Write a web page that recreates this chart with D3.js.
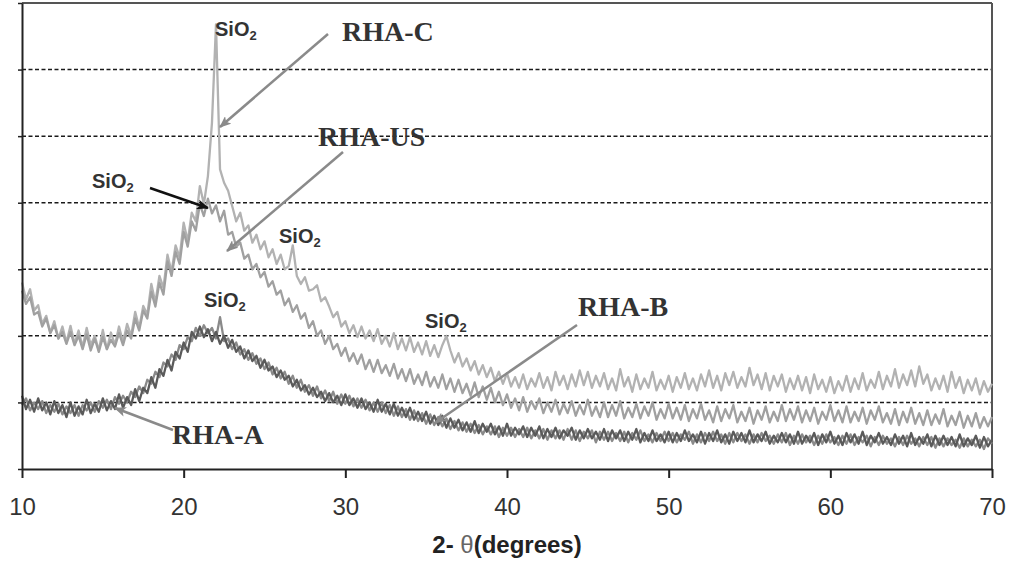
<!DOCTYPE html>
<html>
<head>
<meta charset="utf-8">
<script src="https://cdn.jsdelivr.net/npm/d3@7/dist/d3.min.js"></script>
<style>
html,body{margin:0;padding:0;background:#fff;}
svg{display:block;}
</style>
</head>
<body>
<svg id="chart" width="1019" height="569"></svg>
<script>
// ---- data (2θ grid: 10° to 70° in 0.25° steps) ----
const twoTheta = d3.range(10, 70.001, 0.25);
const xTicks = [10, 20, 30, 40, 50, 60, 70];
const gridValues = [100, 200, 300, 400, 500, 600];

const rhaC = [
280,255,270,238, 246,218,230,205, 222,196,214,190, 215,188,208,183, 212,186,200,178,
209,180,205,186, 214,190,218,200, 236,212,245,232, 278,250,290,272, 322,296,336,318,
370,342,385,372, 425,398,440,520, 668,450,430,418, 395,372,385,358, 366,340,352,330,
342,318,330,308, 322,300,305,336, 290,278,288,268, 270,276,252,258, 244,228,236,214,
222,204,216,198, 214,196,208,192, 210,188,200,184, 204,180,196,178, 198,176,190,172,
192,170,186,168, 186,200,178,160, 174,154,166,148, 162,142,156,138, 152,132,146,128,
144,124,138,122, 142,120,136,124, 144,122,138,118, 146,126,140,120, 142,124,148,126,
146,122,140,124, 144,120,136,118, 150,124,138,116, 142,120,136,122, 146,118,134,120,
140,116,138,122, 144,120,136,118, 142,124,148,122, 140,118,144,126, 146,122,138,124,
152,126,142,120, 144,118,140,124, 142,116,136,120, 140,118,138,114, 142,120,134,116,
138,114,132,118, 140,116,136,120, 144,118,134,122, 146,120,140,124, 150,122,142,126,
148,124,154,128, 142,118,136,120, 140,116,146,122, 138,114,134,118, 136,112,132,116,
128];

const rhaUS = [
268,248,258,232, 236,214,226,204, 216,196,206,188, 206,186,200,180, 202,178,196,176,
198,180,194,184, 204,186,208,196, 226,208,238,226, 266,244,280,262, 312,290,326,308,
356,334,372,358, 398,380,406,384, 396,372,388,352, 356,334,340,316, 322,300,308,288,
296,274,282,262, 268,246,256,236, 246,226,234,212, 222,200,208,188, 200,180,188,170,
182,162,174,158, 172,150,164,146, 164,144,156,140, 158,136,150,132, 150,128,142,126,
146,124,138,122, 142,120,136,116, 134,114,128,110, 130,108,124,104, 122,100,116,96,
112,92,106,88, 108,86,102,90, 106,84,100,86, 104,82,98,84, 102,80,96,82,
104,80,94,78, 100,78,96,80, 102,76,92,78, 98,76,94,80, 100,74,90,76,
98,76,92,74, 96,72,90,76, 98,74,88,70, 94,72,90,76, 96,70,86,72,
92,68,88,74, 94,70,86,72, 96,72,90,74, 94,70,88,72, 92,68,86,74,
96,72,88,70, 94,70,86,72, 92,68,88,74, 94,70,84,68, 90,66,86,70,
92,68,84,66, 88,66,82,68, 90,64,80,66, 86,62,80,64, 84,62,78,64,
78];

const rhaB = [
96,106,88,100, 90,102,84,96, 86,98,82,94, 84,96,80,96, 88,100,86,102,
92,104,90,108, 98,110,100,116, 108,124,114,134, 128,146,138,160, 154,172,164,186,
180,198,192,212, 200,216,204,212, 196,228,192,196, 180,190,172,180, 164,174,158,166,
150,160,142,152, 136,146,128,140, 122,134,116,126, 110,124,106,118, 102,116,98,112,
98,110,94,106, 92,104,88,100, 86,100,84,96, 80,94,78,90, 74,88,72,84,
68,82,66,78, 64,76,60,72, 58,70,56,68, 54,66,52,64, 52,64,48,62,
50,62,48,60, 48,62,46,58, 46,60,44,58, 46,58,44,60, 44,58,42,56,
46,58,40,56, 44,56,42,54, 42,56,40,54, 44,58,42,52, 40,54,42,56,
42,54,40,52, 44,56,38,52, 40,54,42,56, 42,52,38,54, 40,54,42,52,
38,52,40,54, 42,50,38,52, 40,54,36,50, 38,52,40,50, 36,50,38,52,
40,48,36,50, 38,52,36,48, 40,50,34,48, 36,50,38,46, 34,48,36,50,
38,46,34,48, 36,48,32,46, 34,46,36,44, 32,46,34,44, 34,44,30,46,
38];

const rhaA = [
110,90,104,86, 106,88,100,82, 102,84,96,78, 100,80,94,82, 104,84,98,86,
106,88,102,90, 112,92,108,96, 120,102,122,114, 138,122,150,140, 164,148,176,166,
190,176,206,196, 214,198,210,192, 206,188,200,182, 194,176,184,166, 178,162,170,152,
164,148,154,138, 148,134,140,124, 134,118,126,112, 122,108,116,102, 114,100,110,96,
112,96,106,92, 106,90,100,86, 104,86,98,82, 98,80,92,78, 92,74,86,72,
86,68,80,66, 80,62,76,62, 74,58,70,56, 72,54,68,56, 68,52,64,50,
68,50,62,52, 64,48,62,50, 64,46,60,48, 62,46,58,50, 62,44,58,46,
60,46,56,44, 60,42,58,46, 58,42,56,44, 60,40,54,42, 58,42,52,40,
56,40,54,42, 58,42,52,40, 56,38,54,42, 58,40,52,38, 56,42,54,40,
58,40,52,42, 56,38,50,40, 54,40,52,38, 56,38,50,40, 54,36,52,40,
56,38,50,36, 54,40,52,38, 56,36,50,40, 54,38,48,36, 52,38,50,34,
54,36,48,38, 52,34,50,36, 50,36,48,34, 52,34,46,36, 50,32,48,34,
44];

const seriesNames = ["RHA-C", "RHA-US", "RHA-B", "RHA-A"];
const seriesValues = [rhaC, rhaUS, rhaB, rhaA];
const seriesColors = ["#b2b2b2", "#a0a0a0", "#8a8a8a", "#5a5a5a"];

// ---- layout ----
const svg = d3.select("#chart");
const x = d3.scaleLinear().domain([10, 70]).range([22, 992]);
const y = d3.scaleLinear().domain([0, 700]).range([469, 3]);

const defs = svg.append("defs");
defs.append("filter").attr("id", "soft").attr("x", "-5%").attr("y", "-5%").attr("width", "110%").attr("height", "110%")
  .append("feGaussianBlur").attr("stdDeviation", 0.55);

// grid lines
svg.append("g").selectAll("line").data(gridValues).join("line")
  .attr("x1", x(10)).attr("x2", x(70))
  .attr("y1", d => y(d)).attr("y2", d => y(d))
  .attr("stroke", "#1a1a1a").attr("stroke-width", 1.5)
  .attr("stroke-dasharray", "4,2.5");

// frame top/right
svg.append("line").attr("x1", x(10)).attr("x2", x(70)).attr("y1", y(700)).attr("y2", y(700))
  .attr("stroke", "#555").attr("stroke-width", 2);
svg.append("line").attr("x1", x(70)).attr("x2", x(70)).attr("y1", y(700)).attr("y2", y(0))
  .attr("stroke", "#555").attr("stroke-width", 2);

// series
const line = d3.line().x((d, i) => x(twoTheta[i])).y(d => y(d));
svg.append("g").attr("filter", "url(#soft)").selectAll("path").data(seriesValues).join("path")
  .attr("d", d => line(d))
  .attr("fill", "none")
  .attr("stroke", (d, i) => seriesColors[i])
  .attr("stroke-width", 2.3)
  .attr("stroke-linejoin", "round");

// axes
const xAxis = svg.append("g").attr("transform", `translate(0,${y(0)})`)
  .call(d3.axisBottom(x).tickValues(xTicks).tickSize(9).tickSizeOuter(0).tickPadding(20));
xAxis.select(".domain").attr("stroke", "#222").attr("stroke-width", 2);
xAxis.selectAll(".tick line").attr("stroke", "#222").attr("stroke-width", 2);
xAxis.selectAll(".tick text")
  .attr("font-family", "Liberation Sans, Arial, sans-serif")
  .attr("font-size", 24).attr("fill", "#333");

const yAxis = svg.append("g").attr("transform", `translate(${x(10)},0)`)
  .call(d3.axisLeft(y).tickValues([0].concat(gridValues).concat([700])).tickSize(4).tickSizeOuter(0).tickFormat(""));
yAxis.select(".domain").attr("stroke", "#222").attr("stroke-width", 2);
yAxis.selectAll(".tick line").attr("stroke", "#222").attr("stroke-width", 1.5);

// axis title
const title = svg.append("text").attr("x", 507).attr("y", 553)
  .attr("text-anchor", "middle")
  .attr("font-family", "Liberation Sans, Arial, sans-serif")
  .attr("font-size", 24).attr("font-weight", "bold").attr("fill", "#222");
title.append("tspan").text("2- ");
title.append("tspan").attr("font-weight", "normal").attr("fill", "#666").text("θ");
title.append("tspan").text("(degrees)");

// arrows
function marker(id, color) {
  defs.append("marker").attr("id", id).attr("viewBox", "0 0 12 10")
    .attr("refX", 11).attr("refY", 5).attr("markerWidth", 12).attr("markerHeight", 10)
    .attr("markerUnits", "userSpaceOnUse").attr("orient", "auto")
    .append("path").attr("d", "M0,0 L12,5 L0,10 L3,5 Z").attr("fill", color);
}
marker("arrGray", "#8a8a8a");
marker("arrBlack", "#111");

const arrows = [
  {x1: 328, y1: 34, x2: 220, y2: 127, c: "#8a8a8a", m: "arrGray"},
  {x1: 343, y1: 152, x2: 227, y2: 251, c: "#8a8a8a", m: "arrGray"},
  {x1: 150, y1: 188, x2: 208, y2: 208, c: "#111", m: "arrBlack"},
  {x1: 173, y1: 430, x2: 115, y2: 408, c: "#8a8a8a", m: "arrGray"},
  {x1: 577, y1: 325, x2: 435, y2: 423, c: "#8a8a8a", m: "arrGray"}
];
svg.append("g").selectAll("line").data(arrows).join("line")
  .attr("x1", d => d.x1).attr("y1", d => d.y1).attr("x2", d => d.x2).attr("y2", d => d.y2)
  .attr("stroke", d => d.c).attr("stroke-width", 2.5)
  .attr("marker-end", d => `url(#${d.m})`);

// series labels
const seriesLabels = [
  {t: "RHA-C", x: 342, y: 41},
  {t: "RHA-US", x: 318, y: 146},
  {t: "RHA-B", x: 578, y: 316},
  {t: "RHA-A", x: 172, y: 444}
];
svg.append("g").selectAll("text").data(seriesLabels).join("text")
  .attr("x", d => d.x).attr("y", d => d.y)
  .attr("font-family", "Liberation Serif, Times New Roman, serif")
  .attr("font-size", 28).attr("font-weight", "bold").attr("fill", "#333")
  .text(d => d.t);

// SiO2 peak labels
const peakLabels = [
  {x: 215, y: 36}, {x: 92, y: 188}, {x: 279, y: 243}, {x: 204, y: 307}, {x: 425, y: 328}
];
const pl = svg.append("g").selectAll("text").data(peakLabels).join("text")
  .attr("x", d => d.x).attr("y", d => d.y)
  .attr("font-family", "Liberation Sans, Arial, sans-serif")
  .attr("font-size", 20).attr("font-weight", "bold").attr("fill", "#333");
pl.append("tspan").text("SiO");
pl.append("tspan").attr("font-size", 13).attr("dy", 4).text("2");
</script>
</body>
</html>
